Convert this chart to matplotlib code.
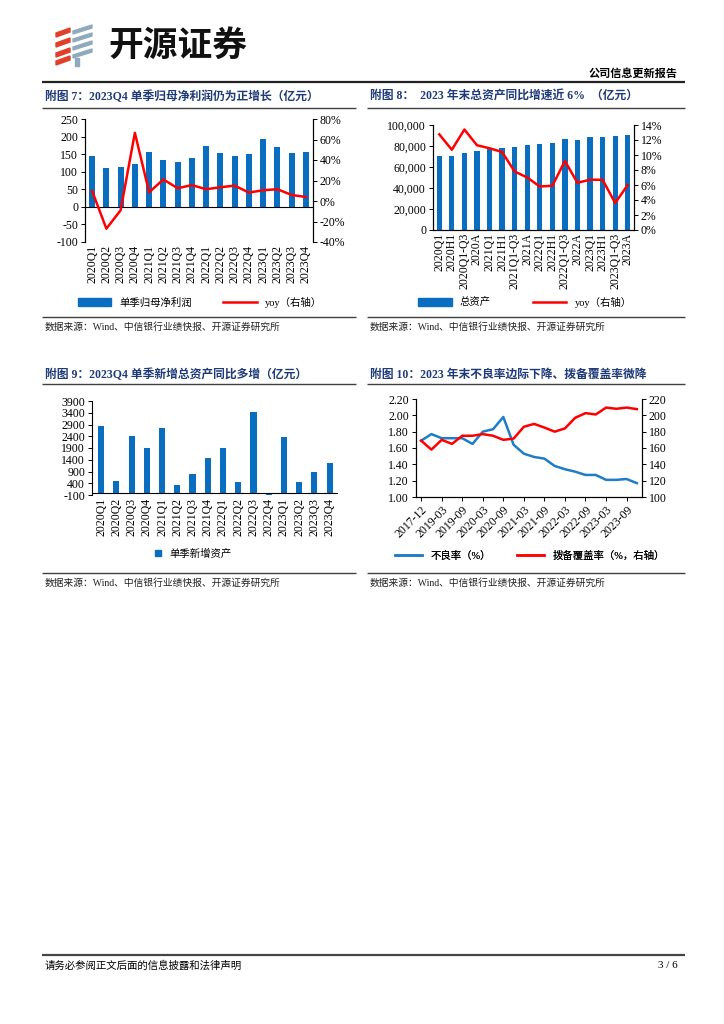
import matplotlib
matplotlib.use("Agg")
import matplotlib.pyplot as plt
from matplotlib.patches import Polygon, Patch
from matplotlib.lines import Line2D
from matplotlib.ticker import FuncFormatter

plt.rcParams['font.family'] = ['Liberation Serif', 'Noto Sans CJK SC']
plt.rcParams['axes.unicode_minus'] = False

# ---- data ----
q_labels = ['2020Q1', '2020Q2', '2020Q3', '2020Q4', '2021Q1', '2021Q2', '2021Q3', '2021Q4',
            '2022Q1', '2022Q2', '2022Q3', '2022Q4', '2023Q1', '2023Q2', '2023Q3', '2023Q4']
profit = [145, 110, 114, 121, 156, 134, 127, 139, 174, 152, 146, 150, 193, 170, 154, 156]
profit_yoy = [9.8, -27, -9, 66.5, 8.5, 21, 12.5, 15.5, 11.5, 13.4, 15, 8.2, 10.5, 11.5, 5.9, 3.9]

asset_labels = ['2020Q1', '2020H1', '2020Q1-Q3', '2020A', '2021Q1', '2021H1', '2021Q1-Q3', '2021A',
                '2022Q1', '2022H1', '2022Q1-Q3', '2022A', '2023Q1', '2023H1', '2023Q1-Q3', '2023A']
assets = [70500, 70800, 73300, 75200, 77800, 78400, 79400, 80600,
          82200, 82900, 86300, 85700, 88200, 88600, 89500, 90800]
assets_yoy = [12.75, 10.7, 13.4, 11.3, 10.9, 10.4, 7.8, 7.0, 5.8, 5.9, 9.2, 6.3, 6.7, 6.7, 3.6, 6.0]

new_assets = [2840, 480, 2430, 1880, 2760, 320, 780, 1480, 1900, 450, 3450, -100, 2380, 470, 860, 1280]

npl_dates = ['2017-12', '2018-12', '2019-03', '2019-06', '2019-09', '2019-12', '2020-03', '2020-06',
             '2020-09', '2020-12', '2021-03', '2021-06', '2021-09', '2021-12', '2022-03', '2022-06',
             '2022-09', '2022-12', '2023-03', '2023-06', '2023-09', '2023-12']
npl = [1.69, 1.77, 1.72, 1.72, 1.72, 1.65, 1.80, 1.83, 1.98, 1.64, 1.53, 1.49, 1.47, 1.38, 1.34,
       1.31, 1.27, 1.27, 1.21, 1.21, 1.22, 1.17]
coverage = [169, 158, 170, 165, 175, 175, 177, 175, 170, 171.5, 186, 189.5, 185, 180, 184, 197,
            202.7, 201, 209.5, 208, 209.5, 207.6]

BLUE = '#0a6ec0'
RED = '#ff0000'
NAVY = '#1f3a78'
W, H = 724, 1024

fig = plt.figure(figsize=(7.24, 10.24), dpi=100)
ov = fig.add_axes([0, 0, 1, 1])
ov.set_xlim(0, W)
ov.set_ylim(H, 0)
ov.axis('off')


def px_axes(x0, y0, x1, y1):
    return fig.add_axes([x0 / W, 1 - y1 / H, (x1 - x0) / W, (y1 - y0) / H])


def hline(y, x0, x1, lw=1.0, color='#404040'):
    ov.plot([x0, x1], [y, y], color=color, lw=lw, solid_capstyle='butt')


def add_legend(handles, labels, cx, cy, **kw):
    leg = ov.legend(handles, labels, loc='center', bbox_to_anchor=(cx, cy),
                    bbox_transform=ov.transData, frameon=False, fontsize=7.5, **kw)
    ov.add_artist(leg)


# ---- header ----
for yc in [34, 44, 54, 62]:
    ov.add_patch(Polygon([(56, yc + 3), (70, yc - 2), (70, yc - 6), (56, yc - 1)], color='#e0402a'))
for yc in [31, 39, 47, 55]:
    ov.add_patch(Polygon([(73, yc + 3), (92, yc - 3), (92, yc - 6), (73, yc)], color='#8fa9bd'))
ov.add_patch(Polygon([(75, 58), (79, 58), (79, 66), (75, 66)], color='#8fa9bd'))
ov.text(108, 45, '开源证券', fontsize=25, fontweight='bold', family='Noto Sans CJK SC',
        va='center', ha='left', color='#111111')
ov.text(678, 74, '公司信息更新报告', fontsize=8, fontweight='bold', ha='right', va='center')
hline(82, 42, 685, lw=1.6, color='#222222')

# ---- footer ----
hline(955, 42, 685, lw=1.6, color='#444444')
ov.text(45, 966, '请务必参阅正文后面的信息披露和法律声明', fontsize=7.5, va='center')
ov.text(678, 966, '3 / 6', fontsize=8, va='center', ha='right')

# ---- titles / separators / sources ----
titles = [(45, 97, '附图 7：2023Q4 单季归母净利润仍为正增长（亿元）'),
          (370, 97, '附图 8：  2023 年末总资产同比增速近 6%  （亿元）'),
          (45, 375, '附图 9：2023Q4 单季新增总资产同比多增（亿元）'),
          (370, 375, '附图 10：2023 年末不良率边际下降、拨备覆盖率微降')]
for x, y, t in titles:
    ov.text(x, y, t, fontsize=8.5, fontweight='bold', color=NAVY, va='center')
for y in [108, 384]:
    hline(y, 42, 356)
    hline(y, 367, 685)
for y in [317, 573]:
    hline(y, 42, 356)
    hline(y, 367, 685)
src = '数据来源：Wind、中信银行业绩快报、开源证券研究所'
for x, y in [(45, 327), (370, 327), (45, 583), (370, 583)]:
    ov.text(x, y, src, fontsize=7, va='center', color='#222222')

TS = 8.5


def style(ax):
    ax.tick_params(labelsize=TS, length=3, width=0.7, pad=2)
    for s in ax.spines.values():
        s.set_linewidth(0.8)


# ---- chart 7 ----
ax = px_axes(85, 119, 313, 242)
x = range(len(q_labels))
ax.bar(x, profit, width=0.42, color=BLUE)
ax.set_ylim(-100, 250)
ax.set_yticks(range(-100, 251, 50))
ax.set_xlim(-0.5, 15.5)
ax.axhline(0, color='black', lw=0.8)
ax.spines['top'].set_visible(False)
ax.spines['bottom'].set_visible(False)
ax.set_xticks(list(x))
ax.set_xticklabels(q_labels, rotation=90)
style(ax)
ax.tick_params(axis='x', length=0)
ax2 = ax.twinx()
ax2.plot(x, profit_yoy, color=RED, lw=1.8)
ax2.set_ylim(-40, 80)
ax2.set_yticks(range(-40, 81, 20))
ax2.yaxis.set_major_formatter(FuncFormatter(lambda v, p: f'{v:.0f}%'))
ax2.spines['top'].set_visible(False)
ax2.spines['bottom'].set_visible(False)
style(ax2)
add_legend([Patch(color=BLUE), Line2D([], [], color=RED, lw=1.8)], ['单季归母净利润', 'yoy（右轴）'],
           200, 302, ncol=2, handlelength=3.2, handleheight=0.7, columnspacing=3)

# ---- chart 8 ----
ax = px_axes(433, 125, 634, 230)
x = range(len(asset_labels))
ax.bar(x, assets, width=0.42, color=BLUE)
ax.set_ylim(0, 100000)
ax.set_yticks(range(0, 100001, 20000))
ax.yaxis.set_major_formatter(FuncFormatter(lambda v, p: f'{v:,.0f}'))
ax.set_xlim(-0.5, 15.5)
ax.spines['top'].set_visible(False)
ax.set_xticks(list(x))
ax.set_xticklabels(asset_labels, rotation=90)
style(ax)
ax.tick_params(axis='x', length=0)
ax2 = ax.twinx()
ax2.plot(x, assets_yoy, color=RED, lw=1.8)
ax2.set_ylim(0, 14)
ax2.set_yticks(range(0, 15, 2))
ax2.yaxis.set_major_formatter(FuncFormatter(lambda v, p: f'{v:.0f}%'))
ax2.spines['top'].set_visible(False)
style(ax2)
add_legend([Patch(color=BLUE), Line2D([], [], color=RED, lw=1.8)], ['总资产', 'yoy（右轴）'],
           525, 302, ncol=2, handlelength=3.2, handleheight=0.7, columnspacing=4)

# ---- chart 9 ----
ax = px_axes(92, 401, 338, 495)
x = range(len(q_labels))
ax.bar(x, new_assets, width=0.4, color=BLUE)
ax.set_ylim(-100, 3900)
ax.set_yticks(range(-100, 3901, 500))
ax.set_xlim(-0.6, 15.55)
ax.axhline(0, color='black', lw=0.8)
for s in ['top', 'bottom', 'right']:
    ax.spines[s].set_visible(False)
ax.set_xticks(list(x))
ax.set_xticklabels(q_labels, rotation=90)
style(ax)
ax.tick_params(axis='x', length=0)
add_legend([Line2D([], [], marker='s', color=BLUE, ls='none', markersize=5)], ['单季新增资产'],
           190, 554, handletextpad=0.1)

# ---- chart 10 ----
ax = px_axes(416, 399, 642, 497)
x = range(len(npl_dates))
ax.plot(x, npl, color='#1f7cc6', lw=1.8)
ax.set_ylim(1.0, 2.2)
ax.set_yticks([1.0, 1.2, 1.4, 1.6, 1.8, 2.0, 2.2])
ax.yaxis.set_major_formatter(FuncFormatter(lambda v, p: f'{v:.2f}'))
ax.set_xlim(-0.5, 21.5)
ax.spines['top'].set_visible(False)
ax.set_xticks(list(x)[::2])
ax.set_xticklabels(npl_dates[::2], rotation=45, ha='right', rotation_mode='anchor')
style(ax)
ax2 = ax.twinx()
ax2.plot(x, coverage, color=RED, lw=1.8)
ax2.set_ylim(100, 220)
ax2.set_yticks(range(100, 221, 20))
ax2.spines['top'].set_visible(False)
style(ax2)
add_legend([Line2D([], [], color='#1f7cc6', lw=1.8), Line2D([], [], color=RED, lw=1.8)],
           ['不良率（%）', '拨备覆盖率（%，右轴）'], 530, 556, ncol=2, handlelength=2.6,
           columnspacing=2.5)

fig.savefig('out.png', dpi=100)
